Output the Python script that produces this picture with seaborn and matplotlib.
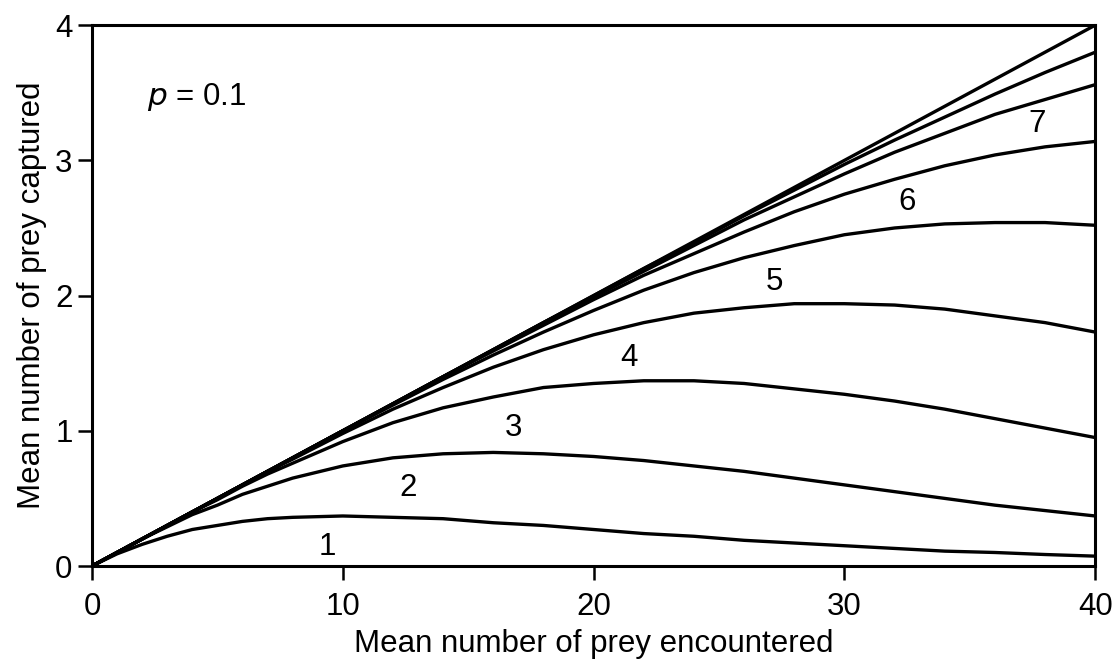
import matplotlib
matplotlib.use("Agg")
import numpy as np
import pandas as pd
import matplotlib.pyplot as plt
import seaborn as sns

# Values (p = 0.1), x = mean number of prey encountered
encountered = [0, 1, 2, 3, 4, 5, 6, 7, 8, 10, 12, 14, 16, 18, 20, 22, 24, 26, 28, 30, 32, 34, 36, 38, 40]

curve_1 = [0, 0.09, 0.16, 0.22, 0.27, 0.30, 0.33, 0.35, 0.36, 0.37, 0.36, 0.35, 0.32, 0.30, 0.27, 0.24, 0.22, 0.19, 0.17, 0.15, 0.13, 0.11, 0.10, 0.085, 0.073]
curve_2 = [0, 0.10, 0.20, 0.29, 0.38, 0.45, 0.53, 0.59, 0.65, 0.74, 0.80, 0.83, 0.84, 0.83, 0.81, 0.78, 0.74, 0.70, 0.65, 0.60, 0.55, 0.50, 0.45, 0.41, 0.37]
curve_3 = [0, 0.10, 0.20, 0.30, 0.40, 0.49, 0.59, 0.68, 0.76, 0.92, 1.06, 1.17, 1.25, 1.32, 1.35, 1.37, 1.37, 1.35, 1.31, 1.27, 1.22, 1.16, 1.09, 1.02, 0.95]
curve_4 = [0, 0.10, 0.20, 0.30, 0.40, 0.50, 0.60, 0.70, 0.79, 0.98, 1.16, 1.32, 1.47, 1.60, 1.71, 1.80, 1.87, 1.91, 1.94, 1.94, 1.93, 1.90, 1.85, 1.80, 1.73]
curve_5 = [0, 0.10, 0.20, 0.30, 0.40, 0.50, 0.60, 0.70, 0.80, 1.00, 1.19, 1.38, 1.56, 1.73, 1.89, 2.04, 2.17, 2.28, 2.37, 2.45, 2.50, 2.53, 2.54, 2.54, 2.52]
curve_6 = [0, 0.10, 0.20, 0.30, 0.40, 0.50, 0.60, 0.70, 0.80, 1.00, 1.20, 1.40, 1.59, 1.78, 1.97, 2.15, 2.31, 2.47, 2.62, 2.75, 2.86, 2.96, 3.04, 3.10, 3.14]
curve_7 = [0, 0.10, 0.20, 0.30, 0.40, 0.50, 0.60, 0.70, 0.80, 1.00, 1.20, 1.40, 1.60, 1.80, 1.99, 2.18, 2.37, 2.56, 2.73, 2.90, 3.06, 3.20, 3.34, 3.45, 3.56]
curve_8 = [0, 0.10, 0.20, 0.30, 0.40, 0.50, 0.60, 0.70, 0.80, 1.00, 1.20, 1.40, 1.60, 1.80, 2.00, 2.20, 2.39, 2.59, 2.78, 2.97, 3.15, 3.32, 3.49, 3.65, 3.80]
upper = [0, 0.10, 0.20, 0.30, 0.40, 0.50, 0.60, 0.70, 0.80, 1.00, 1.20, 1.40, 1.60, 1.80, 2.00, 2.20, 2.40, 2.60, 2.80, 3.00, 3.20, 3.40, 3.60, 3.80, 4.00]

curves = {"1": curve_1, "2": curve_2, "3": curve_3, "4": curve_4, "5": curve_5,
          "6": curve_6, "7": curve_7, "8": curve_8, "upper": upper}

# where each curve number is written
label_text = ["1", "2", "3", "4", "5", "6", "7"]
label_x = [9.4, 12.6, 16.8, 21.4, 27.2, 32.5, 37.7]
label_y = [0.14, 0.58, 1.02, 1.54, 2.10, 2.69, 3.27]

frames = []
for name, vals in curves.items():
    frames.append(pd.DataFrame({"encountered": encountered, "captured": vals, "curve": name}))
df = pd.concat(frames, ignore_index=True)

sns.set_theme(style="ticks", rc={"text.color": "black", "axes.labelcolor": "black",
                                 "xtick.color": "black", "ytick.color": "black"})
plt.rcParams['font.family'] = ['Liberation Sans', 'DejaVu Sans']

fig = plt.figure(figsize=(11.16, 6.62), dpi=100)
ax = fig.add_axes([0.0824, 0.145, 0.899, 0.817])

sns.lineplot(data=df, x="encountered", y="captured", hue="curve",
             palette=["black"] * len(curves), legend=False, linewidth=2.4, ax=ax)

fs = 22.5
for t, x, y in zip(label_text, label_x, label_y):
    ax.text(x, y, t, fontsize=fs, ha="center", va="center", color="black")
ax.text(2.2, 3.47, r"$\it{p}$ = 0.1", fontsize=fs, ha="left", va="center", color="black")

ax.set_xlim(0, 40)
ax.set_ylim(0, 4)
ax.set_xticks([0, 10, 20, 30, 40])
ax.set_yticks([0, 1, 2, 3, 4])
ax.set_xlabel("Mean number of prey encountered", fontsize=fs, labelpad=5)
ax.set_ylabel("Mean number of prey captured", fontsize=fs, labelpad=6)
ax.tick_params(direction="out", length=10, width=1.8, labelsize=fs, colors="black", pad=4)
ax.tick_params(axis="x", pad=9)
for s in ax.spines.values():
    s.set_visible(True)
    s.set_linewidth(2.2)
    s.set_color("black")

fig.savefig("out.png", dpi=100)
